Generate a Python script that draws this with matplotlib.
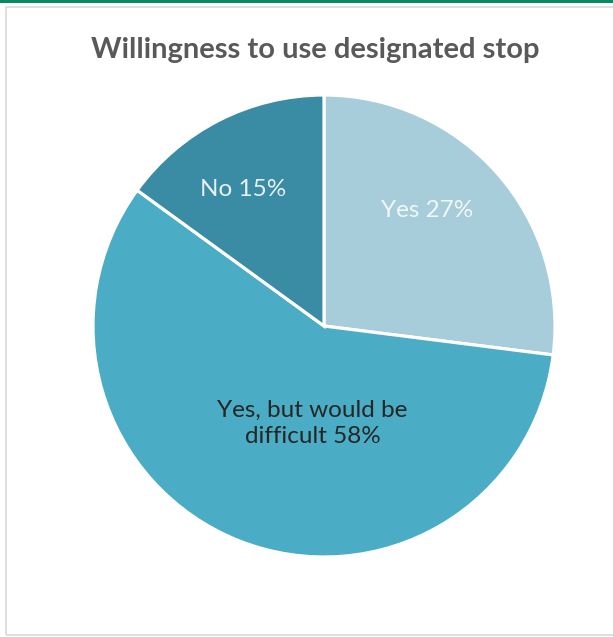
import matplotlib
matplotlib.use("Agg")
import matplotlib.pyplot as plt
from matplotlib.patches import Rectangle

# data
labels = ["Yes 27%", "Yes, but would be\ndifficult 58%", "No 15%"]
shares = [27, 58, 15]
colors = ["#A7CCDA", "#4AACC5", "#3A8BA4"]
text_colors = ["#F2F7FA", "#262626", "#E8F2F6"]
title = "Willingness to use designated stop"

plt.rcParams['font.family'] = ['Lato', 'DejaVu Sans']

fig = plt.figure(figsize=(6.13, 6.37), dpi=100)

# green strip on top + grey frame around the chart area
fig.patches.append(Rectangle((0, 1 - 3 / 637), 1, 3 / 637, transform=fig.transFigure,
                             facecolor="#0A8A62", edgecolor="none"))
fig.patches.append(Rectangle((6 / 613, 2 / 637), 1.0, 1 - 9 / 637, transform=fig.transFigure,
                             facecolor="none", edgecolor="#D9D9D9", linewidth=1.2))

ax = fig.add_axes([93 / 613, 80 / 637, 462 / 613, 462 / 637])
ax.pie(shares, colors=colors, startangle=90, counterclock=False,
       wedgeprops=dict(edgecolor="white", linewidth=2.3))
ax.set_xlim(-1, 1)
ax.set_ylim(-1, 1)
ax.set_aspect("equal")
ax.axis("off")

# label positions (relative to pie radius)
label_pos = [(0.445, 0.50), (-0.05, -0.42), (-0.35, 0.59)]
for lab, (x, y), c in zip(labels, label_pos, text_colors):
    ax.text(x, y, lab, ha="center", va="center", color=c, fontsize=17.5,
            linespacing=1.3)

fig.text(315 / 613, 1 - 50 / 637, title, ha="center", va="center",
         fontsize=21, fontweight="bold", color="#595959")

fig.savefig("out.png", dpi=100)
